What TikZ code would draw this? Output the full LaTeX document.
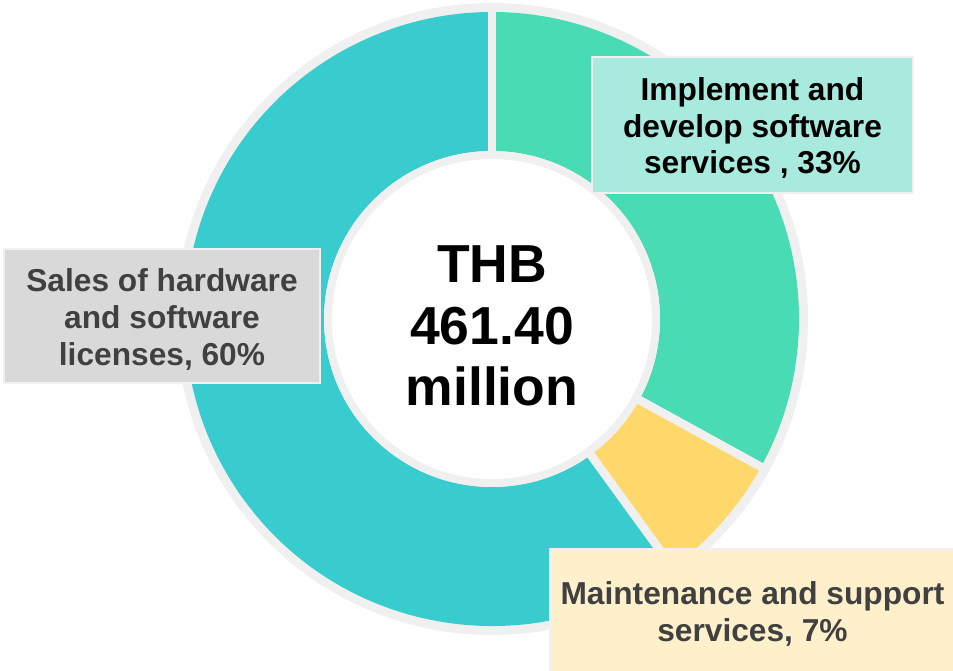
\documentclass[tikz,border=0pt]{standalone}
\usepackage{fontspec}
\setmainfont{Liberation Sans}
\definecolor{ringgray}{HTML}{F0F0F0}
\definecolor{segteal}{HTML}{38CCCF}
\definecolor{seggreen}{HTML}{48DBB4}
\definecolor{segyellow}{HTML}{FED86A}
\definecolor{lblgreen}{HTML}{A8EADD}
\definecolor{lblgray}{HTML}{D9D9D9}
\definecolor{lblyellow}{HTML}{FFF0CC}
\definecolor{txtgray}{HTML}{404040}
\tikzset{
  lblbox/.style={draw=ringgray, line width=1.5pt, inner sep=0pt},
  lbltext/.style={inner sep=0pt, align=center,
    font=\bfseries\fontsize{31.7}{36.8}\selectfont},
  sepline/.style={draw=ringgray, line width=8.5pt},
}
\begin{document}
\begin{tikzpicture}[x=1pt,y=1pt]
\useasboundingbox (0,0) rectangle (953,670);
\fill[white] (0,0) rectangle (953,670);
\begin{scope}[shift={(492,351)}]
  \fill[ringgray] (0,0) circle[radius=316pt];
  % green 33%
  \fill[seggreen] (90:307pt) arc[start angle=90, end angle=-28.8, radius=307pt]
     -- (-28.8:168pt) arc[start angle=-28.8, end angle=90, radius=168pt] -- cycle;
  % yellow 7%
  \fill[segyellow] (-28.8:307pt) arc[start angle=-28.8, end angle=-54, radius=307pt]
     -- (-54:168pt) arc[start angle=-54, end angle=-28.8, radius=168pt] -- cycle;
  % teal 60%
  \fill[segteal] (-54:307pt) arc[start angle=-54, end angle=-270, radius=307pt]
     -- (-270:168pt) arc[start angle=-270, end angle=-54, radius=168pt] -- cycle;
  \draw[sepline] (90:165pt) -- (90:310pt);
  \draw[sepline] (-28.8:165pt) -- (-28.8:310pt);
  \draw[sepline] (-54:165pt) -- (-54:310pt);
  \fill[ringgray] (0,0) circle[radius=168pt];
  \fill[white] (0,0) circle[radius=160pt];
\end{scope}
\node[inner sep=0pt, align=center, font=\bfseries\fontsize{53.5}{61.5}\selectfont] (total) at (492,344)
  {THB\\461.40\\million};
\node[lblbox, fill=lblgreen, minimum width=321pt, minimum height=136pt] (impl) at (752.5,545) {};
\node[lbltext] (implt) at (752.5,542) {Implement and\\develop software\\services , 33\%};
\node[lblbox, fill=lblgray, minimum width=316pt, minimum height=134pt] (sales) at (162,354) {};
\node[lbltext, text=txtgray] (salest) at (162,350.5) {Sales of hardware\\and software\\licenses, 60\%};
\node[lblbox, fill=lblyellow, minimum width=405pt, minimum height=126pt] (maint) at (752.5,58) {};
\node[lbltext, text=txtgray] (maintt) at (752.5,56) {Maintenance and support\\services, 7\%};
\end{tikzpicture}
\end{document}
